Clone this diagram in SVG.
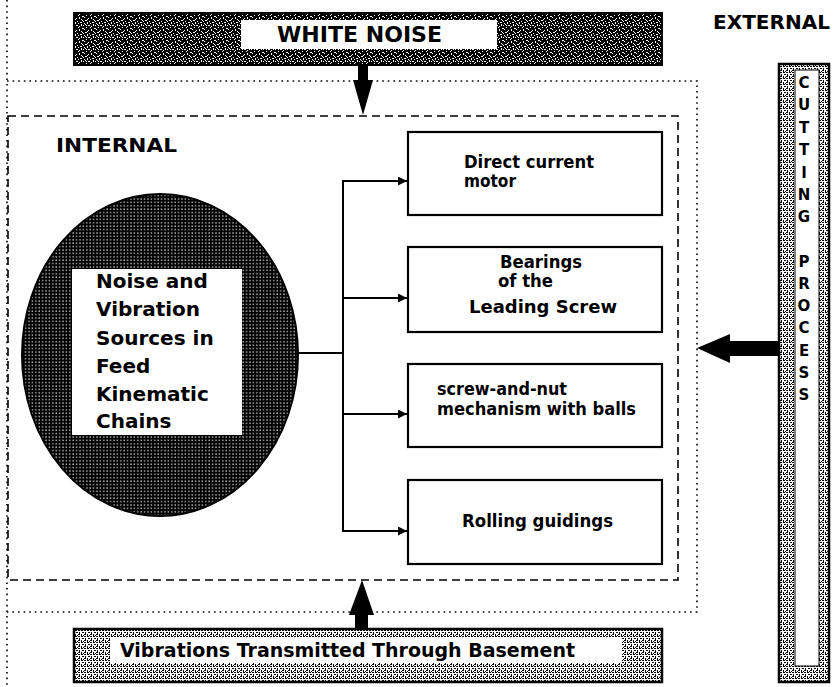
<svg xmlns="http://www.w3.org/2000/svg" width="835" height="687" viewBox="0 0 835 687">
  <style>
    .t { font-family: "DejaVu Sans", "Liberation Sans", sans-serif; font-weight: bold; fill: #000; }
    .box { fill: #fff; stroke: #000; stroke-width: 2.2; }
    .wire { fill: none; stroke: #000; stroke-width: 2; }
    .dots { fill: none; stroke: #000; stroke-width: 1.6; stroke-dasharray: 1.6 4; }
    .dash { fill: none; stroke: #000; stroke-width: 1.6; stroke-dasharray: 8 5; }
    .big { fill: #000; }
  </style>
  <defs>
    <!-- dark speckled texture for the noise banner -->
    <pattern id="speckDark" width="12" height="12" patternUnits="userSpaceOnUse">
      <rect width="12" height="12" fill="#000"/>
      <path fill="#fff" d="M1 0h1v1h-1z M4 1h2v1h-2z M9 0h1v2h-1z M2 3h1v1h-1z M6 3h1v1h-1z M10 4h2v1h-2z M0 5h1v1h-1z M4 6h1v1h-1z M7 5h1v2h-1z M1 8h2v1h-2z M9 7h1v1h-1z M5 9h1v1h-1z M11 9h1v1h-1z M3 10h1v2h-1z M8 10h2v1h-2z M0 11h1v1h-1z M6 11h1v1h-1z M2 1h1v1h-1z M7 2h1v1h-1z M11 1h1v1h-1z M3 7h1v1h-1z M10 8h1v1h-1z"/>
    </pattern>
    <!-- halftone used on the ellipse -->
    <pattern id="halftone" width="3.4" height="3.4" patternUnits="userSpaceOnUse">
      <rect width="3.4" height="3.4" fill="#000"/>
      <rect x="1.2" y="1.2" width="1.2" height="1.2" fill="#fff"/>
    </pattern>
    <!-- medium grey dotted texture for side and basement bars -->
    <pattern id="greyDots" width="6" height="6" patternUnits="userSpaceOnUse">
      <rect width="6" height="6" fill="#fff"/>
      <path fill="#000" d="M0 0h2v1h-2z M3 0h2v1h-2z M1 2h1v2h-1z M4 2h2v1h-2z M0 4h2v1h-2z M3 4h1v2h-1z M5 5h1v1h-1z"/>
    </pattern>
    <marker id="tip" viewBox="0 0 10 10" refX="10" refY="5" markerWidth="9" markerHeight="9" markerUnits="userSpaceOnUse" orient="auto">
      <path d="M0,0 L10,5 L0,10 z" fill="#000"/>
    </marker>
  </defs>

  <rect width="835" height="687" fill="#fff"/>

  <!-- machine boundary (dotted) and internal area (dashed) -->
  <g id="boundaries">
    <line class="dots" x1="7" y1="0" x2="7" y2="687"/>
    <polyline class="dots" points="7,81 697,81 697,612 7,612"/>
    <rect class="dash" x="8" y="116" width="670" height="464"/>
  </g>

  <g id="label-internal">
    <text class="t" x="56" y="152" font-size="20" textLength="121" lengthAdjust="spacingAndGlyphs">INTERNAL</text>
  </g>
  <g id="label-external">
    <text class="t" x="713" y="29" font-size="20" textLength="117" lengthAdjust="spacingAndGlyphs">EXTERNAL</text>
  </g>

  <!-- white noise banner -->
  <g id="white-noise">
    <rect x="74" y="13" width="588" height="52" fill="url(#speckDark)" stroke="#000" stroke-width="2"/>
    <rect x="241" y="20" width="256" height="29" fill="#fff"/>
    <text class="t" x="277" y="42" font-size="22" textLength="165" lengthAdjust="spacingAndGlyphs">WHITE NOISE</text>
  </g>

  <!-- basement banner -->
  <g id="basement">
    <rect x="74" y="629" width="588" height="53" fill="url(#greyDots)" stroke="#000" stroke-width="2.5"/>
    <rect x="110" y="638" width="512" height="25" fill="#fff"/>
    <text class="t" x="120" y="657" font-size="19" textLength="455" lengthAdjust="spacingAndGlyphs">Vibrations Transmitted Through Basement</text>
  </g>

  <!-- cutting process column -->
  <g id="cutting-process">
    <rect x="779" y="64" width="50" height="618" fill="url(#greyDots)" stroke="#000" stroke-width="2.5"/>
    <rect x="795" y="70" width="24" height="596" fill="#fff" stroke="#000" stroke-width="1"/>
    <g class="t" font-size="15" text-anchor="middle">
      <text x="804" y="88">C</text>
      <text x="804" y="110">U</text>
      <text x="804" y="133">T</text>
      <text x="804" y="155">T</text>
      <text x="804" y="178">I</text>
      <text x="804" y="200">N</text>
      <text x="804" y="222">G</text>
      <text x="804" y="267">P</text>
      <text x="804" y="289">R</text>
      <text x="804" y="311">O</text>
      <text x="804" y="333">C</text>
      <text x="804" y="356">E</text>
      <text x="804" y="378">S</text>
      <text x="804" y="400">S</text>
    </g>
  </g>

  <!-- source ellipse -->
  <g id="sources">
    <ellipse cx="160" cy="355" rx="138" ry="161" fill="url(#halftone)" stroke="#000" stroke-width="2"/>
    <rect x="72" y="269" width="170" height="166" fill="#fff"/>
    <g class="t" font-size="20">
      <text x="96" y="288">Noise and</text>
      <text x="96" y="316">Vibration</text>
      <text x="96" y="345">Sources in</text>
      <text x="96" y="373">Feed</text>
      <text x="96" y="401">Kinematic</text>
      <text x="96" y="428">Chains</text>
    </g>
  </g>

  <g id="motor">
    <rect class="box" x="408" y="132" width="254" height="83"/>
    <text class="t" x="464" y="168" font-size="18" textLength="130" lengthAdjust="spacingAndGlyphs">Direct current</text>
    <text class="t" x="464" y="187" font-size="18" textLength="52" lengthAdjust="spacingAndGlyphs">motor</text>
  </g>
  <g id="bearings">
    <rect class="box" x="408" y="247" width="254" height="85"/>
    <text class="t" x="500" y="268" font-size="18" textLength="82" lengthAdjust="spacingAndGlyphs">Bearings</text>
    <text class="t" x="498" y="287" font-size="18" textLength="55" lengthAdjust="spacingAndGlyphs">of the</text>
    <text class="t" x="469" y="313" font-size="18" textLength="148" lengthAdjust="spacingAndGlyphs">Leading Screw</text>
  </g>
  <g id="ball-screw">
    <rect class="box" x="408" y="364" width="254" height="83"/>
    <text class="t" x="437" y="395" font-size="18" textLength="130" lengthAdjust="spacingAndGlyphs">screw-and-nut</text>
    <text class="t" x="437" y="415" font-size="18" textLength="199" lengthAdjust="spacingAndGlyphs">mechanism with balls</text>
  </g>
  <g id="guidings">
    <rect class="box" x="408" y="480" width="254" height="84"/>
    <text class="t" x="462" y="527" font-size="18" textLength="151" lengthAdjust="spacingAndGlyphs">Rolling guidings</text>
  </g>

  <!-- connectors -->
  <g id="connectors">
    <line class="wire" x1="297" y1="353" x2="343" y2="353"/>
    <line class="wire" x1="343" y1="180" x2="343" y2="532"/>
    <line class="wire" x1="342" y1="181" x2="407" y2="181" marker-end="url(#tip)"/>
    <line class="wire" x1="342" y1="298" x2="407" y2="298" marker-end="url(#tip)"/>
    <line class="wire" x1="342" y1="414" x2="407" y2="414" marker-end="url(#tip)"/>
    <line class="wire" x1="342" y1="531" x2="407" y2="531" marker-end="url(#tip)"/>
    <!-- heavy block arrows from the external influences -->
    <polygon class="big" points="358,65 368,65 368,80 373,80 363,115 353,80 358,80"/>
    <polygon class="big" points="355,630 368,630 368,615 374,615 362,580 349,615 355,615"/>
    <polygon class="big" points="780,341 780,356 730,356 730,363 697,348 730,334 730,341"/>
  </g>
</svg>
